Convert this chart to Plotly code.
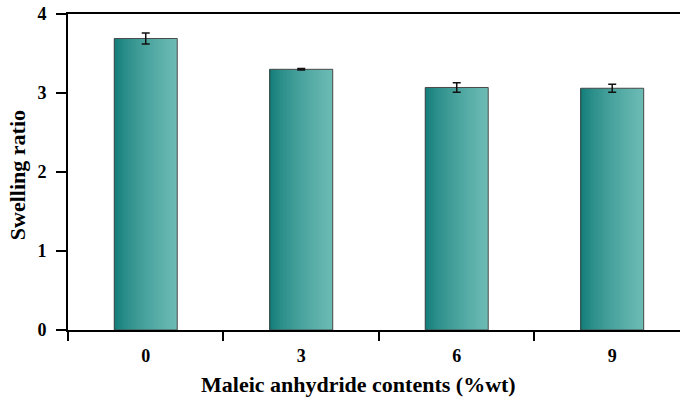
import plotly.graph_objects as go

categories = ["0", "3", "6", "9"]
swelling = [3.69, 3.30, 3.07, 3.06]
errors = [0.07, 0.01, 0.06, 0.05]
y_ticks = [0, 1, 2, 3, 4]

BAR_W = 0.405
N = 40
c0 = (14, 122, 118)
c1 = (108, 187, 181)

fig = go.Figure()
for i in range(N):
    t = i / (N - 1)
    tt = t ** 0.7
    col = tuple(int(round(c0[k] + (c1[k] - c0[k]) * tt)) for k in range(3))
    fig.add_trace(go.Bar(
        x=categories, y=swelling,
        width=BAR_W / N * 1.02, offset=-BAR_W / 2 + i * BAR_W / N,
        marker=dict(color="rgb(%d,%d,%d)" % col, line=dict(width=0)),
        hoverinfo="skip", showlegend=False,
    ))
fig.add_trace(go.Bar(
    x=categories, y=swelling, width=BAR_W,
    marker=dict(color="rgba(0,0,0,0)", line=dict(color="#4a4a4a", width=1)),
    error_y=dict(type="data", array=errors, color="#111", thickness=1.5, width=4),
    showlegend=False,
))

font = "Liberation Serif, Times New Roman, serif"
fig.update_layout(
    width=680, height=398,
    margin=dict(l=68, r=0, t=14, b=68),
    barmode="overlay",
    plot_bgcolor="white", paper_bgcolor="white",
    font=dict(family=font, color="black"),
    showlegend=False,
    annotations=[
        dict(text="<b>Maleic anhydride contents (%wt)</b>", xref="paper", yref="paper",
             x=0.475, y=0, yshift=-54, xanchor="center", yanchor="middle", showarrow=False,
             font=dict(size=22, family=font, color="black")),
        dict(text="<b>Swelling ratio</b>", xref="paper", yref="paper", textangle=-90,
             x=0, y=0.49, xshift=-51, xanchor="center", yanchor="middle", showarrow=False,
             borderpad=0,
             font=dict(size=22, family=font, color="black")),
    ],
)
fig.update_xaxes(
    type="category", range=[-0.5, 3.436], automargin=False,
    tickson="boundaries", ticks="outside", ticklen=9, tickwidth=1.5, tickcolor="black",
    showline=True, linecolor="black", linewidth=2, mirror=True,
    showgrid=False, zeroline=False, ticklabelstandoff=8,
    tickfont=dict(size=18, family=font, weight="bold", color="black"),
)
fig.update_yaxes(
    range=[0, 4], tickvals=y_ticks, ticktext=[f"<b>{v}</b>" for v in y_ticks], automargin=False,
    ticks="outside", ticklen=10, tickwidth=2, tickcolor="black",
    showline=True, linecolor="black", linewidth=2,
    showgrid=False, zeroline=False, ticklabelstandoff=6, ticklabeloverflow="allow",
    tickfont=dict(size=18, family=font, color="black"),
)
fig.write_html("out.html", config={"displayModeBar": False},
               post_script="document.body.style.margin='0';")
